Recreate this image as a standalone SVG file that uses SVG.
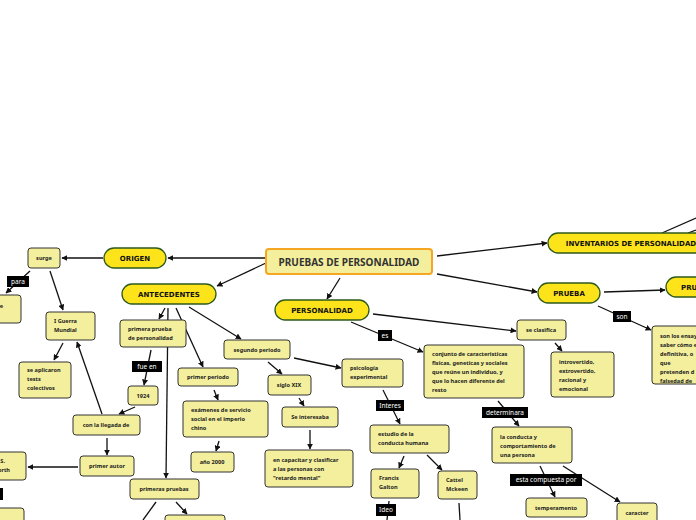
<svg xmlns="http://www.w3.org/2000/svg" width="696" height="520" viewBox="0 0 696 520">
<defs>
<marker id="ah" viewBox="0 0 10 10" refX="9" refY="5" markerWidth="6" markerHeight="6" orient="auto" markerUnits="userSpaceOnUse"><path d="M0,0 L10,5 L0,10 z" fill="#111"/></marker>
</defs>
<style>
.n rect{fill:#f3ef9d;stroke:#333;stroke-width:1}
.n text{font-family:"Noto Sans","DejaVu Sans",sans-serif;font-size:5.6px;font-weight:700;fill:#222}
.p rect{fill:#fde31a;stroke:#2e5a1c;stroke-width:1.3}
.p text{font-family:"DejaVu Sans",sans-serif;font-size:7px;font-weight:700;fill:#111;text-anchor:middle}
.c{text-anchor:middle}
.r{text-anchor:end}
.e line{stroke:#111;stroke-width:1.3;marker-end:url(#ah)}
.e line.nm{marker-end:none}
.l rect{fill:#000}
.l text{font-family:"Noto Sans","DejaVu Sans",sans-serif;font-size:6.5px;fill:#fff;text-anchor:middle}
</style>
<rect width="696" height="520" fill="#fff"/>

<g class="e" id="connectors">
<line x1="266" y1="258" x2="168" y2="258"/>
<line x1="103" y1="258" x2="62" y2="258"/>
<line x1="30" y1="271" x2="6" y2="293"/>
<line x1="50" y1="271" x2="63" y2="310"/>
<line x1="63" y1="343" x2="54" y2="360"/>
<line x1="102" y1="414" x2="77" y2="342"/>
<line x1="135" y1="407" x2="119" y2="414"/>
<line x1="107" y1="438" x2="107" y2="455"/>
<line x1="78" y1="467" x2="28" y2="467"/>
<line x1="266" y1="263" x2="217" y2="286"/>
<line x1="165" y1="308" x2="159" y2="319"/>
<line x1="168" y1="308" x2="166" y2="478"/>
<line x1="176" y1="308" x2="203" y2="367"/>
<line x1="189" y1="307" x2="241" y2="339"/>
<line x1="151" y1="350" x2="144" y2="385"/>
<line x1="214" y1="390" x2="218" y2="400"/>
<line x1="219" y1="441" x2="216" y2="451"/>
<line class="nm" x1="156" y1="502" x2="143" y2="520"/>
<line x1="176" y1="502" x2="187" y2="514"/>
<line x1="268" y1="362" x2="282" y2="374"/>
<line x1="294" y1="358" x2="341" y2="368"/>
<line x1="299" y1="398" x2="304" y2="406"/>
<line x1="310" y1="430" x2="310" y2="449"/>
<line x1="340" y1="278" x2="327" y2="299"/>
<line x1="351" y1="322" x2="423" y2="352"/>
<line x1="373" y1="314" x2="516" y2="331"/>
<line x1="383" y1="390" x2="400" y2="424"/>
<line x1="404" y1="456" x2="399" y2="468"/>
<line x1="427" y1="455" x2="442" y2="470"/>
<line class="nm" x1="389" y1="501" x2="387" y2="520"/>
<line class="nm" x1="459" y1="503" x2="460" y2="520"/>
<line x1="498" y1="401" x2="519" y2="426"/>
<line x1="555" y1="343" x2="562" y2="351"/>
<line x1="540" y1="466" x2="555" y2="497"/>
<line x1="563" y1="466" x2="620" y2="502"/>
<line x1="437" y1="256" x2="547" y2="243"/>
<line x1="437" y1="274" x2="537" y2="292"/>
<line x1="604" y1="292" x2="665" y2="290"/>
<line x1="598" y1="306" x2="651" y2="330"/>
<line class="nm" x1="662" y1="233" x2="696" y2="218"/>
<line class="nm" x1="688" y1="233" x2="696" y2="230"/>
</g>

<g class="l" id="labels">
<rect x="7" y="276" width="22" height="11"/><text x="18" y="284">para</text>
<rect x="132" y="361" width="30" height="11"/><text x="147" y="369">fue en</text>
<rect x="378" y="330" width="14" height="11"/><text x="385" y="338">es</text>
<rect x="376" y="400" width="28" height="11"/><text x="390" y="408">Interes</text>
<rect x="376" y="504" width="20" height="12"/><text x="386" y="512">Ideo</text>
<rect x="482" y="407" width="46" height="11"/><text x="505" y="415">determinara</text>
<rect x="510" y="474" width="72" height="12"/><text x="546" y="482">esta compuesta por</text>
<rect x="613" y="311" width="18" height="11"/><text x="622" y="319">son</text>
<rect x="-20" y="488" width="23" height="12"/>
</g>

<g id="pruebas-de-personalidad">
<rect x="266" y="249" width="166" height="25" rx="3" fill="#f3ef9d" stroke="#f5a623" stroke-width="2"/>
<text x="349" y="266" text-anchor="middle" font-family="'Noto Sans','DejaVu Sans',sans-serif" font-size="10" font-weight="700" fill="#333">PRUEBAS DE PERSONALIDAD</text>
</g>

<g class="p" id="origen"><rect x="104" y="248" width="62" height="20" rx="10"/><text x="135" y="261">ORIGEN</text></g>
<g class="p" id="antecedentes"><rect x="122" y="284" width="94" height="20" rx="10"/><text x="169" y="297">ANTECEDENTES</text></g>
<g class="p" id="personalidad"><rect x="275" y="300" width="94" height="20" rx="10"/><text x="322" y="313">PERSONALIDAD</text></g>
<g class="p" id="inventarios"><rect x="548" y="233" width="170" height="20" rx="10"/><text x="631" y="246">INVENTARIOS DE PERSONALIDAD</text></g>
<g class="p" id="prueba"><rect x="538" y="283" width="62" height="20" rx="10"/><text x="569" y="296">PRUEBA</text></g>
<g class="p" id="pru"><rect x="666" y="277" width="70" height="20" rx="10"/><text x="681" y="290" style="text-anchor:start">PRUEBAS</text></g>

<g class="n" id="surge"><rect x="28" y="248" width="32" height="20" rx="3"/><text class="c" x="44" y="260">surge</text></g>
<g class="n" id="left-top"><rect x="-22" y="295" width="43" height="28" rx="3"/><text class="r" x="3" y="308">e</text></g>
<g class="n" id="guerra"><rect x="46" y="312" width="49" height="28" rx="3"/><text x="54" y="323">I Guerra</text><text x="54" y="332">Mundial</text></g>
<g class="n" id="aplicaron"><rect x="19" y="362" width="52" height="36" rx="3"/><text x="27" y="372">se aplicaron</text><text x="27" y="381">tests</text><text x="27" y="390">colectivos</text></g>
<g class="n" id="llegada"><rect x="73" y="415" width="67" height="20" rx="3"/><text class="c" x="106" y="427">con la llegada de</text></g>
<g class="n" id="primer-autor"><rect x="80" y="456" width="54" height="20" rx="3"/><text class="c" x="107" y="468">primer autor</text></g>
<g class="n" id="woodworth"><rect x="-22" y="452" width="48" height="28" rx="3"/><text class="r" x="5" y="463">Robert S.</text><text class="r" x="10" y="472">Woodworth</text></g>
<g class="n" id="left-bottom"><rect x="-22" y="508" width="46" height="20" rx="3"/></g>
<g class="n" id="primera-prueba"><rect x="120" y="320" width="66" height="27" rx="3"/><text x="128" y="331">primera prueba</text><text x="128" y="340">de personalidad</text></g>
<g class="n" id="y1924"><rect x="128" y="386" width="30" height="19" rx="3"/><text class="c" x="143" y="398">1924</text></g>
<g class="n" id="primer-periodo"><rect x="178" y="368" width="60" height="18" rx="3"/><text class="c" x="208" y="379">primer periodo</text></g>
<g class="n" id="examenes"><rect x="183" y="401" width="85" height="36" rx="3"/><text x="191" y="412">exámenes de servicio</text><text x="191" y="421">social en el imperio</text><text x="191" y="430">chino</text></g>
<g class="n" id="ano2000"><rect x="191" y="452" width="43" height="20" rx="3"/><text class="c" x="212" y="464">año 2000</text></g>
<g class="n" id="primeras-pruebas"><rect x="130" y="479" width="69" height="20" rx="3"/><text class="c" x="164" y="491">primeras pruebas</text></g>
<g class="n" id="bottom-node"><rect x="165" y="515" width="60" height="20" rx="3"/></g>
<g class="n" id="segundo-periodo"><rect x="224" y="340" width="66" height="19" rx="3"/><text class="c" x="257" y="352">segundo periodo</text></g>
<g class="n" id="siglo-xix"><rect x="268" y="375" width="43" height="20" rx="3"/><text class="c" x="289" y="387">siglo XIX</text></g>
<g class="n" id="se-interesaba"><rect x="282" y="407" width="56" height="20" rx="3"/><text class="c" x="310" y="419">Se interesaba</text></g>
<g class="n" id="capacitar"><rect x="265" y="450" width="88" height="37" rx="3"/><text x="273" y="462">en capacitar y clasificar</text><text x="273" y="471">a las personas con</text><text x="273" y="480">"retardo mental"</text></g>
<g class="n" id="psicologia"><rect x="342" y="359" width="61" height="28" rx="3"/><text x="350" y="370">psicología</text><text x="350" y="379">experimental</text></g>
<g class="n" id="estudio"><rect x="370" y="425" width="79" height="28" rx="3"/><text x="378" y="436">estudio de la</text><text x="378" y="445">conducta humana</text></g>
<g class="n" id="galton"><rect x="371" y="469" width="48" height="29" rx="3"/><text x="379" y="480">Francis</text><text x="379" y="489">Galton</text></g>
<g class="n" id="cattel"><rect x="438" y="471" width="39" height="28" rx="3"/><text x="446" y="482">Cattel</text><text x="446" y="491">Mckeen</text></g>
<g class="n" id="conjunto"><rect x="424" y="345" width="100" height="53" rx="3"/><text x="432" y="356">conjunto de caracteristicas</text><text x="432" y="365">fisicas, geneticas y sociales</text><text x="432" y="374">que reúne un individuo, y</text><text x="432" y="383">que lo hacen diferente del</text><text x="432" y="392">resto</text></g>
<g class="n" id="se-clasifica"><rect x="517" y="320" width="49" height="20" rx="3"/><text class="c" x="541" y="332">se clasifica</text></g>
<g class="n" id="introvertido"><rect x="551" y="352" width="63" height="45" rx="3"/><text x="559" y="364">introvertido,</text><text x="559" y="373">extrovertido,</text><text x="559" y="382">racional y</text><text x="559" y="391">emocional</text></g>
<g class="n" id="conducta"><rect x="492" y="427" width="80" height="36" rx="3"/><text x="500" y="439">la conducta y</text><text x="500" y="448">comportamiento de</text><text x="500" y="457">una persona</text></g>
<g class="n" id="temperamento"><rect x="526" y="498" width="61" height="19" rx="3"/><text class="c" x="556" y="510">temperamento</text></g>
<g class="n" id="caracter"><rect x="617" y="503" width="40" height="24" rx="3"/><text class="c" x="637" y="515">caracter</text></g>
<g class="n" id="ensayos"><rect x="652" y="326" width="60" height="58" rx="3"/><text x="660" y="338">son los ensayos que</text><text x="660" y="347">saber cómo es</text><text x="660" y="356">definitiva, o</text><text x="660" y="365">que</text><text x="660" y="374">pretenden d</text><text x="660" y="383">falsedad de</text></g>
</svg>
